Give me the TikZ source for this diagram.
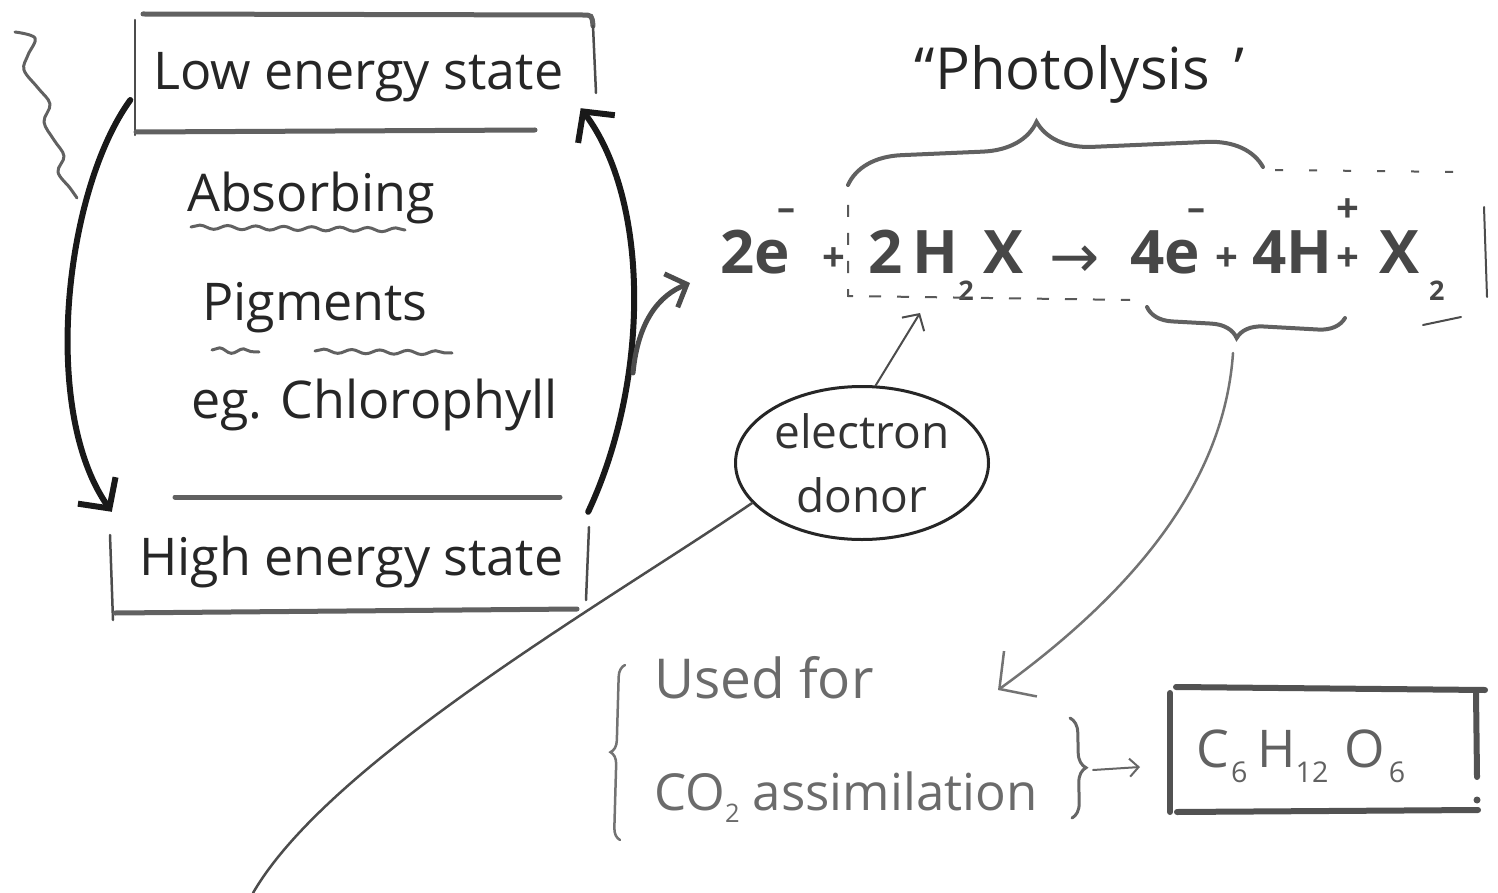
\documentclass[tikz,border=0pt]{standalone}
\usepackage{fontspec}
\usepackage{graphicx}
\setmainfont{Open Sans}
\newfontfamily\symfont{DejaVu Sans}
\usetikzlibrary{arrows.meta,decorations.pathreplacing,decorations.pathmorphing,shapes.geometric}
\newcommand\fs[1]{\fontsize{#1}{#1}\selectfont}
\newcommand\sups[1]{\raisebox{.75em}{\scalebox{.6}{#1}}}
\newcommand\minsup{\hspace{-12pt}\raisebox{.88em}{\scalebox{.6}{–}}}
\newcommand\eqsub[1]{\raisebox{-.45em}{\scalebox{.45}{#1}}}
\newcommand\lsub[1]{\raisebox{-.25em}{\scalebox{.5}{#1}}}
\begin{document}
\begin{tikzpicture}[x=1pt,y=-1pt,
  txt/.style={anchor=base west,inner sep=0pt,text=black!85},
  lt/.style={txt,font=\fs{52}},
  eqt/.style={txt,text=black!72,font=\fs{60}\bfseries},
  eqplus/.style={txt,text=black!72,font=\fs{40}\bfseries},
  lowt/.style={txt,text=black!58,font=\fs{52}},
  area/.style={rectangle,inner sep=0pt,draw=none},
  thickline/.style={line width=5pt,draw=black!62,line cap=round},
  thinline/.style={line width=2.5pt,draw=black!70,line cap=round},
  bigarrow/.style={line width=6pt,draw=black!90,line cap=round,
     -{Straight Barb[length=22pt,width=46pt,line width=6pt]}},
  brancharrow/.style={line width=5pt,draw=black!70,line cap=round,
     -{Straight Barb[length=17pt,width=36pt,line width=5pt]}},
  smallarrow/.style={line width=2pt,draw=black!70,line cap=round,
     -{Straight Barb[length=12pt,width=26pt,line width=2pt]}},
  longarrow/.style={line width=2.5pt,draw=black!55,line cap=round,
     -{Straight Barb[length=26pt,width=56pt,line width=2.5pt]}},
  tinyarrow/.style={line width=2pt,draw=black!60,line cap=round,
     -{Straight Barb[length=9pt,width=18pt,line width=2pt]}},
  bracestroke/.style={line width=4pt,draw=black!62,line cap=round,decorate},
  wavy/.style={line width=3pt,draw=black!62,line cap=round,decorate,
     decoration={snake,amplitude=2pt,segment length=28pt}},
  dashline/.style={line width=2pt,draw=black!65,dash pattern=on 12pt off 16pt}
]
\useasboundingbox (0,0) rectangle (1498,893);

% ---------------- left column ----------------
\node[area,minimum width=457pt,minimum height=118pt] (lowbox) at (363.5,74) {};
\node[area,minimum width=476pt,minimum height=116pt] (highbox) at (350,555) {};

\node[lt] (lowtxt) at (153,90) {Low energy state};
\node[lt] (absorb) at (187,212) {Absorbing};
\node[lt] (pigm) at (202,320) {Pigments};
\node[lt] (eg) at (191,418) {eg. Chlorophyll};
\node[lt] (hightxt) at (139,575) {High energy state};

% low energy box
\draw[thickline] (143,14) -- (582,15) .. controls (592,15) .. (593,26);
\draw[thinline] (593,26) -- (596,93);
\draw[thinline] (135,20) -- (135,135);
\draw[thickline] (136,132) -- (535,130);
% high energy box
\draw[thickline] (175,497) -- (560,497);
\draw[thinline] (110,535) -- (113,620);
\draw[thickline] (115,613) -- (577,609);
\draw[thinline] (589,527) -- (586,600);

% underlines
\draw[wavy] (191,227) -- (405,230);
\draw[wavy,decoration={snake,amplitude=2.5pt,segment length=24pt}] (212,350) -- (259,352);
\draw[wavy] (315,351) -- (452,353);

% light ray squiggle
\draw[line width=3pt,draw=black!62,line cap=round,line join=round]
  plot[smooth,tension=0.6] coordinates {(15,32) (35,38) (28,55) (24,70) (38,88) (50,104) (44,122) (54,140) (64,156) (58,172) (70,188) (77,198)};

% cycle arrows
\draw[bigarrow] ([shift={(-4.5,26)}]lowbox.west) .. controls (65,190) and (40,410) .. ([shift={(0,15)}]highbox.north west);
\draw[bigarrow] ([shift={(0,15)}]highbox.north east) .. controls (650,380) and (650,200) .. ([shift={(-11.5,-25)}]lowbox.south east);

% ---------------- equation ----------------
\node[eqt] (eqA) at (720,273) {2e\minsup};
\node[eqplus] (p1) at (822,271) {+};
\node[eqt] (eqB) at (868,273) {2\,H\eqsub{2}\,X};
\node[txt,text=black!72,font=\fs{60}\symfont] (eqArr) at (1049,277) {→};
\node[eqt] (eqC) at (1130,273) {4e\minsup};
\node[eqplus] (p2) at (1215,271) {+};
\node[eqt] (eqD) at (1252,273) {4H};
\node[eqplus] (p3) at (1336,271) {\rlap{\raisebox{48pt}{+}}+};
\node[eqt] (eqE) at (1379,273) {X\,\eqsub{2}};

\coordinate (branch) at (633,373);
\draw[brancharrow] (branch) .. controls (638,320) and (660,295) .. ([shift={(-30,10)}]eqA.base west);

% dashed box
\draw[dashline] (848,205) -- (848,296) -- (1130,300);
\draw[dashline,dash pattern=on 8pt off 26pt] (1275,170) -- (1460,172) -- (1474,180);
\draw[thinline,line width=2pt] (1484,207) -- (1487,297);
\draw[thinline,line width=2pt] (1423,325) -- (1461,317);

% Photolysis brace and label
\node[txt,font=\fs{58}] (photo) at (935,90) {\llap{“}Photolysis\hspace{24pt}’};
\draw[bracestroke,decoration={brace,amplitude=55pt,aspect=0.46}] (848,185) -- (1263,167);
\draw[bracestroke,decoration={brace,amplitude=26pt,aspect=0.54}] (1345,318) -- (1147,307);
\coordinate (bbtip) at (1233,353);

% electron donor
\node[ellipse,draw=black!85,line width=3pt,minimum width=253pt,minimum height=153pt,
      inner sep=0pt,align=center,text=black!80,font=\fontsize{46}{64}\selectfont] (donor) at (862,463) {electron\\donor};
\coordinate (donortip) at (920,313);
\draw[smallarrow] (donor.80) -- (donortip);
\coordinate (tail) at (253,893);
\draw[line width=2.5pt,draw=black!70,line cap=round] (donor.200) .. controls (610,600) and (330,760) .. (tail);

% ---------------- bottom right ----------------
\node[lowt,font=\fs{55}] (used) at (654,698) {Used for};
\node[lowt,font=\fs{51}] (co2) at (654,810) {CO\lsub{2} assimilation};
\draw[bracestroke,line width=2.5pt,draw=black!55,decoration={brace,amplitude=12pt,aspect=0.5}] (620,840) -- (625,665);
\draw[bracestroke,line width=3pt,draw=black!60,decoration={brace,amplitude=15pt,aspect=0.5}] (1070,718) -- (1072,818);
\coordinate (rbtip) at (1093,770);
\coordinate (usedtip) at (998,690);
\draw[longarrow] (bbtip) .. controls (1225,470) and (1150,580) .. (usedtip);

\node[txt,text=black!62,font=\fs{52}] (glucose) at (1196,767)
  {C\hspace{2pt}\raisebox{-.3em}{\scalebox{.55}{6}}\hspace{10pt}H\raisebox{-.3em}{\scalebox{.55}{12}}\hspace{16pt}O\hspace{4pt}\raisebox{-.3em}{\scalebox{.55}{6}}};
\coordinate (gluin) at (1140,767);
\draw[tinyarrow] (rbtip) -- (gluin);
\draw[thickline,line width=6pt,draw=black!68] (1176,687) -- (1485,690);
\draw[thickline,line width=6pt,draw=black!68] (1170,693) -- (1170,812);
\draw[thickline,line width=6pt,draw=black!68] (1177,812) -- (1478,810);
\draw[thickline,line width=6pt,draw=black!68] (1476,693) -- (1477,777);
\fill[black!68] (1477,800) circle (3.5pt);
\end{tikzpicture}
\end{document}
